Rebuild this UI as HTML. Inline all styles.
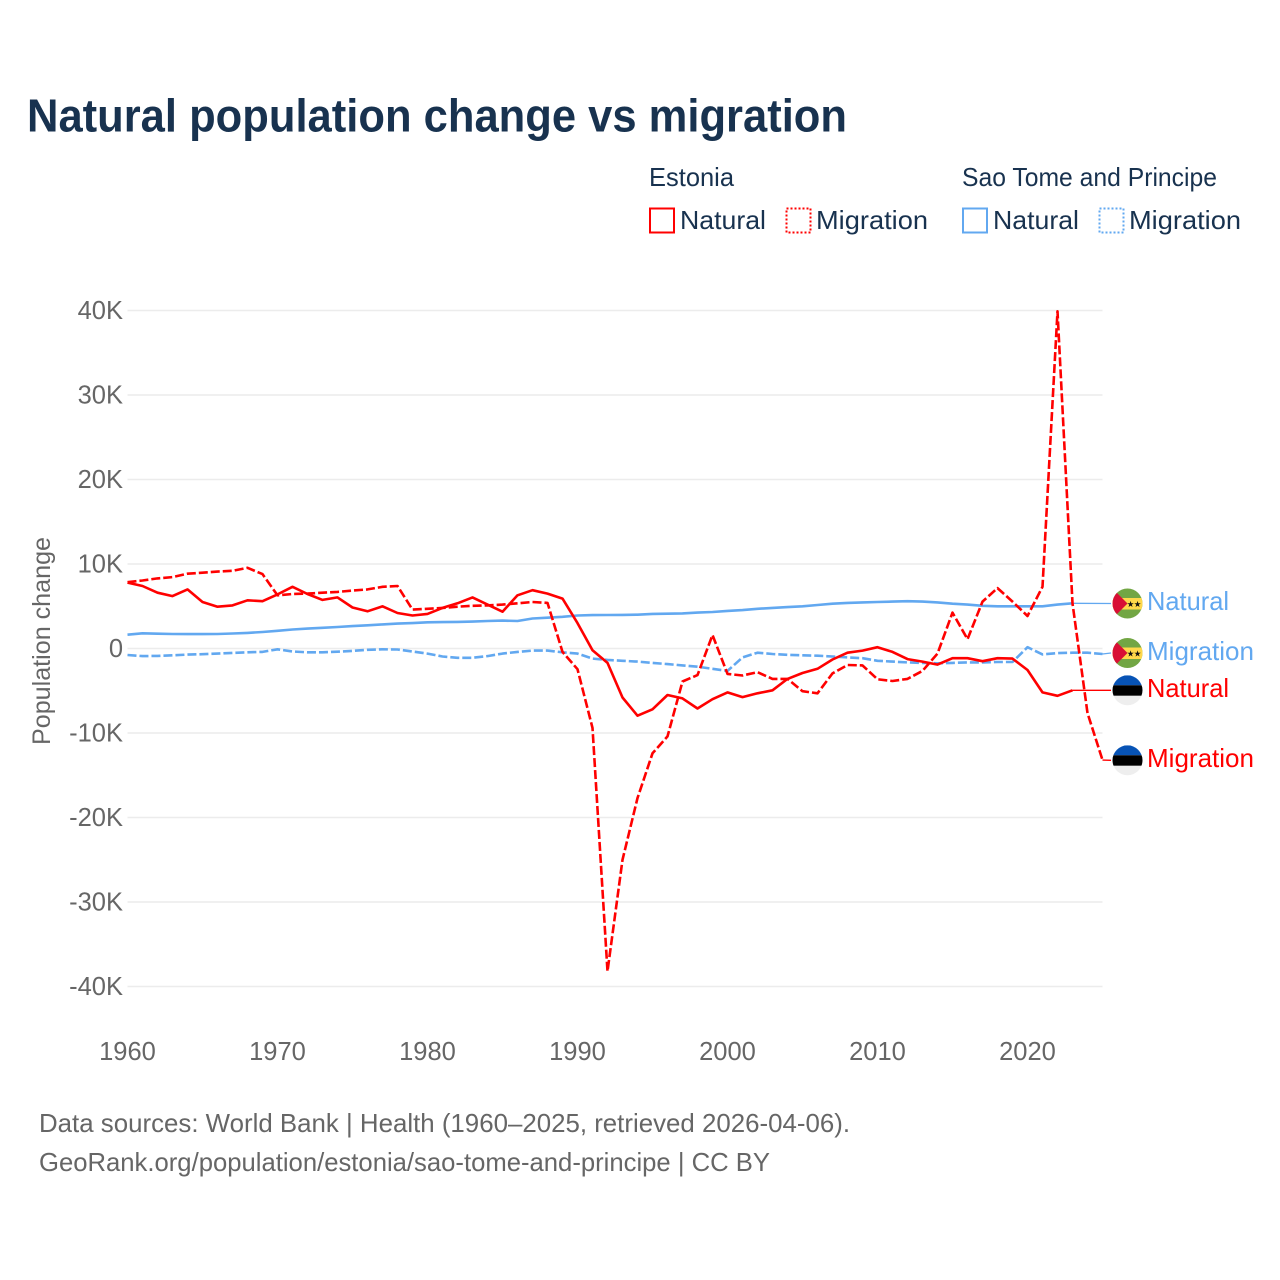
<!DOCTYPE html>
<html lang="en">
<head>
<meta charset="utf-8">
<title>Natural population change vs migration</title>
<style>
html,body{margin:0;padding:0;background:#fff;}
svg{display:block;font-family:"Liberation Sans",sans-serif;}
</style>
</head>
<body>
<svg id="chart" width="1280" height="1280" viewBox="0 0 1280 1280" xmlns="http://www.w3.org/2000/svg">
  <rect x="0" y="0" width="1280" height="1280" fill="#fff"/>
  <text x="27" y="131.5" font-size="46" font-weight="700" fill="#18324f" textLength="820" lengthAdjust="spacingAndGlyphs">Natural population change vs migration</text>

  <g font-size="26" fill="#18324f">
    <text x="649" y="186" textLength="85" lengthAdjust="spacingAndGlyphs">Estonia</text>
    <text x="962" y="186" textLength="255" lengthAdjust="spacingAndGlyphs">Sao Tome and Principe</text>
    <rect x="650" y="208.5" width="24" height="24" fill="none" stroke="#ff0000" stroke-width="2"/>
    <text x="680" y="229" textLength="86" lengthAdjust="spacingAndGlyphs">Natural</text>
    <rect x="786.5" y="208.5" width="24" height="24" fill="none" stroke="#ff0000" stroke-width="2" stroke-dasharray="2,2"/>
    <text x="816" y="229" textLength="112" lengthAdjust="spacingAndGlyphs">Migration</text>
    <rect x="963" y="208.5" width="24" height="24" fill="none" stroke="#62a8f0" stroke-width="2"/>
    <text x="993" y="229" textLength="86" lengthAdjust="spacingAndGlyphs">Natural</text>
    <rect x="1099.5" y="208.5" width="24" height="24" fill="none" stroke="#62a8f0" stroke-width="2" stroke-dasharray="2,2"/>
    <text x="1129" y="229" textLength="112" lengthAdjust="spacingAndGlyphs">Migration</text>
  </g>

  <text transform="translate(50,641) rotate(-90)" text-anchor="middle" font-size="25" fill="#666" textLength="208" lengthAdjust="spacingAndGlyphs">Population change</text>

  <g id="grid"></g>
  <g id="yticks" font-size="25.5" fill="#666" text-anchor="end"></g>
  <g id="xticks" font-size="25.5" fill="#666" text-anchor="middle"></g>
  <g id="series"></g>

  <g>
    <defs>
      <clipPath id="flagClip"><circle cx="0" cy="0" r="15"/></clipPath>
      <g id="stpFlag" clip-path="url(#flagClip)">
        <rect x="-15" y="-15" width="30" height="30" fill="#72a644"/>
        <rect x="-15" y="-5.5" width="30" height="11.5" fill="#ffd84a"/>
        <polygon points="-15,-15 0,0 -15,15" fill="#d80f35"/>
        <text x="3" y="3.5" font-size="8.5" fill="#111" text-anchor="middle">★</text>
        <text x="10" y="3.5" font-size="8.5" fill="#111" text-anchor="middle">★</text>
      </g>
      <g id="estFlag" clip-path="url(#flagClip)">
        <rect x="-15" y="-15" width="30" height="10" fill="#0753b5"/>
        <rect x="-15" y="-5" width="30" height="10.5" fill="#000"/>
        <rect x="-15" y="5.5" width="30" height="10" fill="#eeeeee"/>
      </g>
    </defs>
    <use href="#stpFlag" transform="translate(1127.5,603.5)"/>
    <use href="#stpFlag" transform="translate(1127.5,653)"/>
    <use href="#estFlag" transform="translate(1127.5,690.3)"/>
    <use href="#estFlag" transform="translate(1127.5,760.3)"/>
  </g>

  <g font-size="26">
    <text x="1147" y="610" fill="#62a8f0" textLength="82" lengthAdjust="spacingAndGlyphs">Natural</text>
    <text x="1147" y="660" fill="#62a8f0" textLength="107" lengthAdjust="spacingAndGlyphs">Migration</text>
    <text x="1147" y="697" fill="#ff0000" textLength="82" lengthAdjust="spacingAndGlyphs">Natural</text>
    <text x="1147" y="767" fill="#ff0000" textLength="107" lengthAdjust="spacingAndGlyphs">Migration</text>
  </g>

  <g font-size="26" fill="#666">
    <text x="39" y="1132" textLength="811" lengthAdjust="spacingAndGlyphs">Data sources: World Bank | Health (1960–2025, retrieved 2026-04-06).</text>
    <text x="39" y="1171" textLength="731" lengthAdjust="spacingAndGlyphs">GeoRank.org/population/estonia/sao-tome-and-principe | CC BY</text>
  </g>
</svg>
<script>
const startYear = 1960;
const xTickYears = [1960, 1970, 1980, 1990, 2000, 2010, 2020];
const yTickValues = [40, 30, 20, 10, 0, -10, -20, -30, -40];
const yTickLabels = ["40K", "30K", "20K", "10K", "0", "-10K", "-20K", "-30K", "-40K"];

const estoniaNatural = [7.8,7.4,6.6,6.2,7.0,5.5,4.95,5.1,5.7,5.6,6.4,7.3,6.45,5.75,6.05,4.85,4.4,5.0,4.2,3.9,4.1,4.8,5.35,6.05,5.2,4.35,6.3,6.9,6.5,5.9,3.0,-0.2,-1.7,-5.8,-7.95,-7.2,-5.5,-5.9,-7.1,-6.0,-5.2,-5.75,-5.3,-4.95,-3.6,-2.9,-2.4,-1.3,-0.5,-0.25,0.15,-0.4,-1.25,-1.55,-1.9,-1.15,-1.15,-1.5,-1.15,-1.2,-2.55,-5.2,-5.6,-4.95];
const estoniaMigration = [7.85,8.05,8.3,8.45,8.85,8.97,9.1,9.2,9.55,8.8,6.3,6.45,6.5,6.6,6.7,6.85,7.0,7.3,7.4,4.6,4.7,4.8,4.95,5.05,5.1,5.2,5.35,5.5,5.4,-0.4,-2.45,-9.4,-38.2,-25.0,-17.7,-12.4,-10.4,-3.9,-3.15,1.6,-3.0,-3.2,-2.8,-3.6,-3.6,-5.05,-5.3,-2.95,-1.95,-2.0,-3.65,-3.85,-3.6,-2.65,-0.6,4.25,1.1,5.55,7.15,5.55,3.85,7.3,39.9,5.35,-7.65,-13.2];
const saoTomeNatural = [1.63,1.8,1.75,1.72,1.7,1.7,1.72,1.78,1.85,1.95,2.1,2.25,2.35,2.45,2.55,2.65,2.75,2.85,2.95,3.0,3.1,3.12,3.15,3.18,3.25,3.3,3.25,3.55,3.65,3.75,3.9,3.95,3.97,3.98,4.0,4.1,4.12,4.15,4.25,4.32,4.45,4.55,4.7,4.8,4.9,5.0,5.15,5.3,5.4,5.45,5.5,5.55,5.6,5.55,5.45,5.3,5.2,5.05,5.0,5.0,5.0,5.0,5.2,5.35];
const saoTomeMigration = [-0.77,-0.9,-0.87,-0.8,-0.72,-0.68,-0.6,-0.52,-0.45,-0.4,-0.1,-0.35,-0.45,-0.45,-0.38,-0.28,-0.15,-0.1,-0.12,-0.35,-0.6,-0.95,-1.1,-1.1,-0.9,-0.6,-0.4,-0.25,-0.25,-0.45,-0.6,-1.2,-1.35,-1.45,-1.55,-1.7,-1.85,-2.0,-2.15,-2.4,-2.65,-1.05,-0.5,-0.65,-0.75,-0.8,-0.85,-0.95,-1.05,-1.15,-1.45,-1.55,-1.65,-1.7,-1.75,-1.7,-1.65,-1.65,-1.6,-1.6,0.15,-0.7,-0.55,-0.5,-0.5,-0.65];

const svgNS = "http://www.w3.org/2000/svg";
const plotLeft = 127.5, plotRight = 1102.5, zeroY = 648.5;
const pxPerYear = 15, pxPerK = 8.45;
function xScale(year) { return plotLeft + (year - startYear) * pxPerYear; }
function yScale(value) { return zeroY - value * pxPerK; }
function make(tag, attrs) {
  const el = document.createElementNS(svgNS, tag);
  for (const k in attrs) el.setAttribute(k, attrs[k]);
  return el;
}

const gridG = document.getElementById("grid");
const yG = document.getElementById("yticks");
yTickValues.forEach(function (v, i) {
  const gl = make("line", { x1: plotLeft, x2: plotRight, y1: yScale(v), y2: yScale(v), stroke: "#ececec", "stroke-width": 1.6 });
  
  
  gridG.appendChild(gl);
  const t = make("text", { x: 123, y: yScale(v) + 8.5 });
  
  
  t.textContent = yTickLabels[i];
  yG.appendChild(t);
});

const xG = document.getElementById("xticks");
xTickYears.forEach(function (yr) {
  const t = make("text", { x: xScale(yr), y: 1060 });
  
  
  t.textContent = String(yr);
  xG.appendChild(t);
});

const seriesG = document.getElementById("series");
function drawSeries(values, color, dashed, connectorEndY, name) {
  const pts = values.map(function (v, i) {
    return xScale(startYear + i).toFixed(1) + "," + yScale(v).toFixed(1);
  }).join(" ");
  const line = make("polyline", { points: pts, fill: "none", stroke: color, "stroke-width": 2.6, "stroke-linejoin": "round" });
  if (dashed) line.setAttribute("stroke-dasharray", "9,3");
  
  
  seriesG.appendChild(line);
  const lastIndex = values.length - 1;
  const conn = make("line", {
    x1: xScale(startYear + lastIndex), y1: yScale(values[lastIndex]),
    x2: 1111, y2: connectorEndY, stroke: color, "stroke-width": 1.3
  });
  
  
  seriesG.appendChild(conn);
}
drawSeries(saoTomeNatural, "#62a8f0", false, 603.5, "line-sao-tome-natural");
drawSeries(saoTomeMigration, "#62a8f0", true, 653, "line-sao-tome-migration");
drawSeries(estoniaNatural, "#ff0000", false, 690.3, "line-estonia-natural");
drawSeries(estoniaMigration, "#ff0000", true, 760.3, "line-estonia-migration");
</script>
</body>
</html>
